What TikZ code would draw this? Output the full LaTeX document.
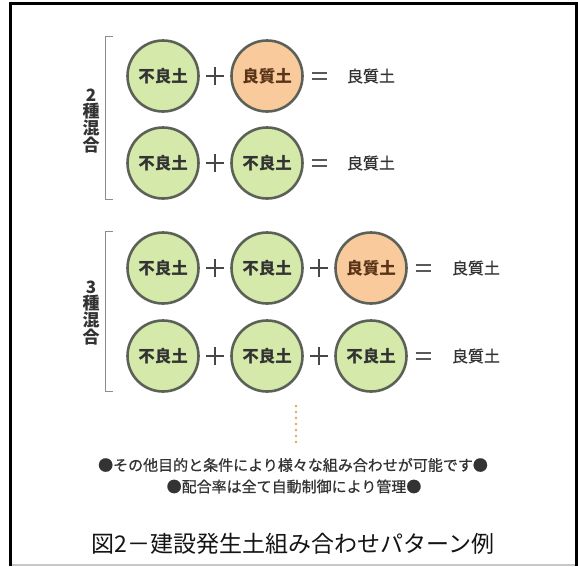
\documentclass[tikz,border=0pt]{standalone}
\usepackage{fontspec}
\setmainfont{Noto Sans CJK JP}
\newfontfamily\jpmed{Noto Sans CJK JP}[FakeBold=0.7]
\definecolor{ringc}{HTML}{5C6158}
\definecolor{greenf}{HTML}{D5E9AA}
\definecolor{orangef}{HTML}{F9CB9C}
\definecolor{txtc}{HTML}{333333}
\definecolor{brownc}{HTML}{5A3418}
\definecolor{dotc}{HTML}{E6A860}
\tikzset{
  soil/.style={circle, draw=ringc, line width=2.6pt, minimum size=71pt, inner sep=0pt,
    font=\bfseries\fontsize{16.5}{17}\selectfont, text=txtc},
  bad/.style={soil, fill=greenf},
  good/.style={soil, fill=orangef, text=brownc},
  res/.style={font=\jpmed\fontsize{16}{17}\selectfont, text=txtc, inner sep=0pt},
  opline/.style={draw=black!72, line width=1.6pt},
  eqline/.style={draw=black!65, line width=2.3pt},
  bracketline/.style={draw=black!45, line width=0.9pt},
  lab/.style={font=\bfseries\fontsize{17}{15.5}\selectfont, text=txtc, align=center, inner sep=0pt},
  note/.style={font=\jpmed\fontsize{15}{16}\selectfont, text=txtc, inner sep=0pt},
  captext/.style={font=\fontsize{23}{25}\selectfont, text=black!92, inner sep=0pt},
}
\newcommand\plusmark[1]{\draw[opline] ([xshift=-9pt]#1) -- ([xshift=9pt]#1) ([yshift=-9pt]#1) -- ([yshift=9pt]#1);}
\newcommand\eqmark[1]{\draw[eqline] ([xshift=-7.5pt,yshift=3pt]#1) -- ([xshift=7.5pt,yshift=3pt]#1) ([xshift=-7.5pt,yshift=-3pt]#1) -- ([xshift=7.5pt,yshift=-3pt]#1);}
\begin{document}
\begin{tikzpicture}[x=1pt,y=-1pt]
\useasboundingbox (0,0) rectangle (578,566);
\fill[white] (0,0) rectangle (578,566);
% frame
\coordinate (fTL) at (10.5,3);
\coordinate (fTR) at (576.5,3);
\coordinate (fBL) at (10.5,566);
\coordinate (fBR) at (576.5,566);
\draw[black, line width=3pt] (fBL) -- (fTL) -- (fTR) -- (fBR);
\draw[black!22, line width=1.5pt] (12,565.2) -- (575,565.2);

% row 1
\node[bad]  (a1) at (163,76) {不良土};
\node[good] (a2) at (267,76) {良質土};
\coordinate (ap1) at (215,76);
\coordinate (ae) at (319.5,76);
\plusmark{ap1}
\eqmark{ae}
\node[res] (ar) at (371,76) {良質土};

% row 2
\node[bad] (b1) at (163,163) {不良土};
\node[bad] (b2) at (267,163) {不良土};
\coordinate (bp1) at (215,163);
\coordinate (be) at (319.5,163);
\plusmark{bp1}
\eqmark{be}
\node[res] (br) at (371,163) {良質土};

% row 3
\node[bad]  (c1) at (163,268) {不良土};
\node[bad]  (c2) at (267,268) {不良土};
\node[good] (c3) at (371,268) {良質土};
\coordinate (cp1) at (215,268);
\coordinate (cp2) at (319,268);
\coordinate (ce) at (423,268);
\plusmark{cp1}
\plusmark{cp2}
\eqmark{ce}
\node[res] (cr) at (476,268) {良質土};

% row 4
\node[bad] (d1) at (163,356) {不良土};
\node[bad] (d2) at (267,356) {不良土};
\node[bad] (d3) at (371,356) {不良土};
\coordinate (dp1) at (215,356);
\coordinate (dp2) at (319,356);
\coordinate (de) at (423,356);
\plusmark{dp1}
\plusmark{dp2}
\eqmark{de}
\node[res] (dr) at (476,356) {良質土};

% brackets and labels
\coordinate (k1t) at (113,36);
\coordinate (k1b) at (113,199);
\draw[bracketline] (k1t) -- ++(-8,0) |- (k1b);
\node[lab] (l1) at (91,121) {2\\種\\混\\合};
\coordinate (k2t) at (113,231);
\coordinate (k2b) at (113,391);
\draw[bracketline] (k2t) -- ++(-8,0) |- (k2b);
\node[lab] (l2) at (91,313) {3\\種\\混\\合};

% dots
\foreach \i in {0,...,6} {
  \fill[dotc] (296,406+6*\i) circle (1.3pt);
}

% notes
\node[note] (n1) at (293,465) {●その他目的と条件により様々な組み合わせが可能です●};
\node[note] (n2) at (294,486.5) {●配合率は全て自動制御により管理●};

% caption
\node[captext] (capt) at (293,544) {図2－建設発生土組み合わせパターン例};
\end{tikzpicture}
\end{document}
